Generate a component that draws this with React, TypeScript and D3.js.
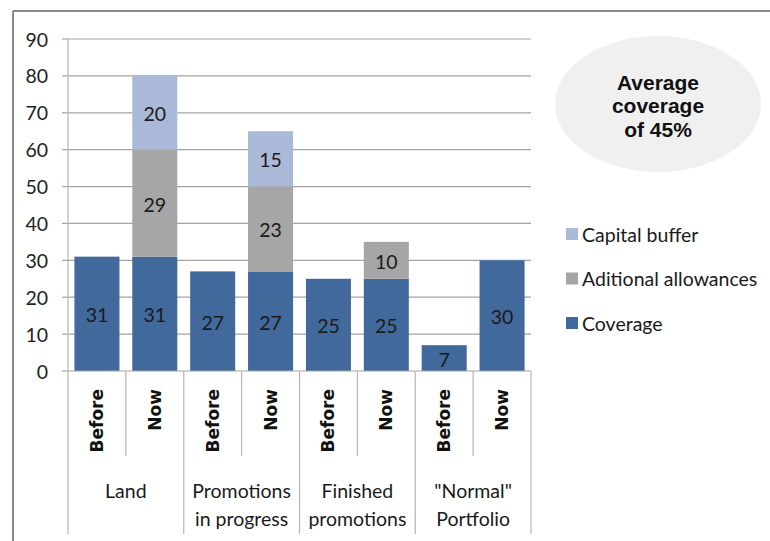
import React from "react";
import * as d3 from "d3";

const bars = ["Before", "Now", "Before", "Now", "Before", "Now", "Before", "Now"];
const groups = [["Land"], ["Promotions", "in progress"], ["Finished", "promotions"], ['"Normal"', "Portfolio"]];
const coverage = [31, 31, 27, 27, 25, 25, 7, 30];
const additional = [0, 29, 0, 23, 0, 10, 0, 0];
const capital = [0, 20, 0, 15, 0, 0, 0, 0];
const yTicks = [0, 10, 20, 30, 40, 50, 60, 70, 80, 90];
const seriesNames = ["Coverage", "Aditional allowances", "Capital buffer"];
const colors = ["#41699b", "#a6a6a6", "#a9b9d7"];
const bubbleLines = ["Average", "coverage", "of 45%"];

const W = 770, H = 541;
const L = 68, R = 531, T = 39, B = 371;

export default function App() {
  const x = d3.scaleBand<number>().domain(d3.range(bars.length)).range([L, R]).paddingInner(0.222).paddingOuter(0.111);
  const y = d3.scaleLinear().domain([0, 90]).range([B, T]);
  const rows = bars.map((b, i) => ({ i, c: coverage[i], a: additional[i], k: capital[i] }));
  const stack = d3.stack<any>().keys(["c", "a", "k"])(rows);
  const step = x.step();
  const calibri = "Lato, 'Open Sans', sans-serif";
  return (
    <svg width={W} height={H} style={{ position: "absolute", left: 0, top: 0, background: "#fff" }}>
      <line x1={13} y1={11} x2={W} y2={11} stroke="#8a8a8a" strokeWidth={2} />
      <line x1={13} y1={11} x2={13} y2={H} stroke="#8a8a8a" strokeWidth={2} />
      {yTicks.map((t) => (
        <g key={t}>
          {t > 0 && <line x1={L} x2={R} y1={y(t)} y2={y(t)} stroke="#a3a3a3" strokeWidth={1.2} />}
          <line x1={L - 6} x2={L} y1={y(t)} y2={y(t)} stroke="#a3a3a3" strokeWidth={1.2} />
          <text x={48} y={y(t)} textAnchor="end" dominantBaseline="central" fontFamily={calibri} fontSize={19.5} fill="#222">{t}</text>
        </g>
      ))}
      {stack.map((s, si) =>
        s.map((d, i) => {
          const v = d[1] - d[0];
          if (v <= 0) return null;
          const bx = x(i)!;
          return (
            <g key={si + "-" + i}>
              <rect x={bx} width={x.bandwidth()} y={y(d[1])} height={y(d[0]) - y(d[1])} fill={colors[si]} />
              <text x={bx + x.bandwidth() / 2} y={y((d[0] + d[1]) / 2) + 1} textAnchor="middle" dominantBaseline="central" fontFamily={calibri} fontSize={19.5} fill="#1a1a1a">{v}</text>
            </g>
          );
        })
      )}
      <line x1={L} x2={L} y1={T} y2={534} stroke="#b5b5b5" strokeWidth={1.2} />
      <line x1={L} x2={R} y1={B} y2={B} stroke="#a3a3a3" strokeWidth={1.2} />
      {bars.map((b, i) => {
        const edge = L + step * (i + 1);
        const isGroup = (i + 1) % 2 === 0;
        const cx = L + step * (i + 0.5);
        return (
          <g key={"x" + i}>
            <line x1={edge} x2={edge} y1={B} y2={isGroup ? 534 : 456} stroke="#b5b5b5" strokeWidth={1.2} />
            <text transform={`translate(${cx + 6},389) rotate(-90)`} textAnchor="end" fontFamily="'DejaVu Sans', sans-serif" fontWeight="bold" fontSize={17} fill="#111">{b}</text>
          </g>
        );
      })}
      {groups.map((g, gi) => {
        const cx = L + step * (gi * 2 + 1);
        return g.map((line, li) => (
          <text key={gi + "-" + li} x={cx} y={490 + li * 28} textAnchor="middle" dominantBaseline="central" fontFamily={calibri} fontSize={19.5} fill="#1a1a1a">{line}</text>
        ));
      })}
      {[2, 1, 0].map((si, li) => (
        <g key={"lg" + si} transform={`translate(566,${234 + li * 44.5})`}>
          <rect x={0} y={-6} width={12} height={12} fill={colors[si]} />
          <text x={16} y={0} dominantBaseline="central" fontFamily={calibri} fontSize={19.5} fill="#1a1a1a">{seriesNames[si]}</text>
        </g>
      ))}
      <ellipse cx={658} cy={104} rx={103} ry={68} fill="#f0f0f0" />
      {bubbleLines.map((t, i) => (
        <text key={t} x={658} y={82 + i * 23.5} textAnchor="middle" dominantBaseline="central" fontFamily="'Liberation Sans', Arial, sans-serif" fontWeight="bold" fontSize={21} fill="#111">{t}</text>
      ))}
    </svg>
  );
}
